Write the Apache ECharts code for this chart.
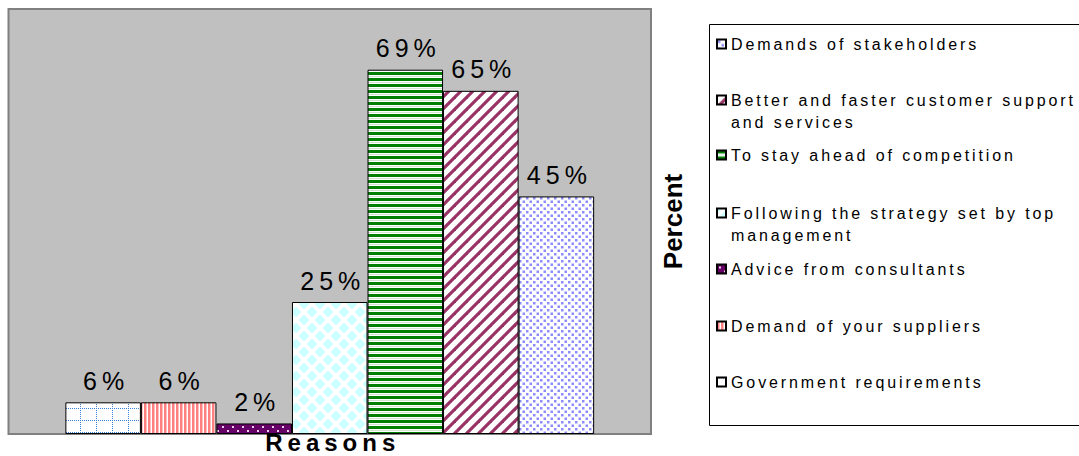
<!DOCTYPE html>
<html>
<head>
<meta charset="utf-8">
<script src="https://cdn.jsdelivr.net/npm/echarts@6/dist/echarts.min.js"></script>
<style>
html, body { margin: 0; padding: 0; background: #fff; }
#chart { width: 1079px; height: 456px; }
/* the old export spreads its letters out */
#chart text { letter-spacing: 2.9px; }
#chart text[style*="25px"] { letter-spacing: 5px; }
#chart text[style*="24px"] { letter-spacing: 5px; }
#chart text[style*="26px"] { letter-spacing: 0; }
</style>
</head>
<body>
<div id="chart"></div>
<script>
var categories = [''];
var seriesNames = [
	'Government requirements',
	'Demand of your suppliers',
	'Advice from consultants',
	'Following the strategy set by top management',
	'To stay ahead of competition',
	'Better and faster customer support and services',
	'Demands of stakeholders'
];
var seriesValues = [6, 6, 2, 25, 69, 65, 45];
var legendLabels = [
	'Government requirements',
	'Demand of your suppliers',
	'Advice from consultants',
	'Following the strategy set by top\nmanagement',
	'To stay ahead of competition',
	'Better and faster customer support\nand services',
	'Demands of stakeholders'
];

var FONT = 'Liberation Sans, Arial, sans-serif';

function tile(w, h, draw) {
	var c = document.createElement('canvas');
	c.width = w;
	c.height = h;
	var ctx = c.getContext('2d');
	ctx.fillStyle = '#fff';
	ctx.fillRect(0, 0, w, h);
	draw(ctx);
	return { image: c, repeat: 'repeat', imageWidth: w, imageHeight: h };
}

// fill patterns, same order as seriesNames
var patterns = [
	tile(16, 12, function(ctx) {
		ctx.fillStyle = '#3d80d8';
		for (var y = 0; y < 12; y += 2) ctx.fillRect(0, y, 1, 1);
		for (var x = 0; x < 16; x += 2) ctx.fillRect(x, 0, 1, 1);
	}),
	tile(4, 1, function(ctx) {
		ctx.fillStyle = '#ff8080';
		ctx.fillRect(0, 0, 2, 1);
		ctx.fillStyle = '#ffc0c0';
		ctx.fillRect(2, 0, 1, 1);
	}),
	tile(10, 8, function(ctx) {
		ctx.fillStyle = '#660066';
		ctx.fillRect(0, 0, 10, 8);
		ctx.fillStyle = '#e8d0e8';
		ctx.fillRect(2, 2, 2, 2);
		ctx.fillRect(7, 6, 2, 2);
	}),
	tile(16, 16, function(ctx) {
		ctx.fillStyle = '#ccffff';
		var pts = [[0, 0], [16, 0], [0, 16], [16, 16], [8, 8]];
		pts.forEach(function(p) {
			ctx.beginPath();
			ctx.moveTo(p[0], p[1] - 5.5);
			ctx.lineTo(p[0] + 5.5, p[1]);
			ctx.lineTo(p[0], p[1] + 5.5);
			ctx.lineTo(p[0] - 5.5, p[1]);
			ctx.closePath();
			ctx.fill();
		});
	}),
	tile(1, 6, function(ctx) {
		ctx.fillStyle = '#008000';
		ctx.fillRect(0, 0, 1, 3);
		ctx.fillStyle = '#cfe6cf';
		ctx.fillRect(0, 4, 1, 1);
	}),
	tile(12, 12, function(ctx) {
		ctx.strokeStyle = '#993366';
		ctx.lineWidth = 3.2;
		[[0, 12, 12, 0], [-6, 6, 6, -6], [6, 18, 18, 6]].forEach(function(l) {
			ctx.beginPath();
			ctx.moveTo(l[0], l[1]);
			ctx.lineTo(l[2], l[3]);
			ctx.stroke();
		});
	}),
	tile(7, 7, function(ctx) {
		ctx.fillStyle = '#8c8cff';
		ctx.fillRect(1, 1, 2.5, 2.5);
		ctx.fillRect(4.5, 4.5, 2.5, 2.5);
	})
];

var series = [];
for (var i = 0; i < seriesNames.length; i++) {
	series.push({
		name: seriesNames[i],
		type: 'bar',
		data: [seriesValues[i]],
		barGap: '0%',
		barCategoryGap: '17.7%',
		itemStyle: {
			color: patterns[i],
			borderColor: '#000',
			borderWidth: 1
		},
		label: {
			show: true,
			position: 'top',
			distance: 9,
			offset: [3, 0],
			formatter: '{c}%',
			fontFamily: FONT,
			fontSize: 25,
			color: '#000'
		},
		emphasis: { disabled: true }
	});
}

// legend runs in reverse order, one component per entry so the gaps can follow the original
var legendOrder = seriesNames.slice().reverse();
var legendLines = [44, 100, 155, 213, 269, 326, 382];
var legends = [];
legendOrder.forEach(function(name, k) {
	var label = legendLabels[seriesNames.indexOf(name)];
	var twoLines = label.indexOf('\n') >= 0;
	legends.push({
		left: 716,
		top: twoLines ? legendLines[k] - 33 : legendLines[k] - 11,
		padding: 0,
		orient: 'vertical',
		data: [name],
		icon: 'rect',
		itemWidth: 9,
		itemHeight: 9,
		selectedMode: false,
		formatter: function() {
			return twoLines ? '\n' + label : label;
		},
		textStyle: {
			fontFamily: FONT,
			fontSize: 16,
			lineHeight: 22,
			color: '#000'
		}
	});
});

var chart = echarts.init(document.getElementById('chart'), null, { renderer: 'svg' });
var option = {
	animation: false,
	backgroundColor: '#fff',
	grid: {
		left: 8.5,
		top: 9,
		right: 428,
		bottom: 22,
		outerBoundsMode: 'none',
		show: true,
		backgroundColor: '#c0c0c0',
		borderColor: '#808080',
		borderWidth: 2
	},
	legend: legends,
	xAxis: {
		type: 'category',
		data: categories,
		name: 'Reasons',
		nameLocation: 'middle',
		nameGap: -4,
		nameTextStyle: {
			fontFamily: FONT,
			fontSize: 24,
			fontWeight: 'bold',
			color: '#000',
			padding: [0, 0, 0, 6]
		},
		axisLine: { show: false },
		axisTick: { show: false },
		axisLabel: { show: false }
	},
	yAxis: {
		type: 'value',
		position: 'right',
		min: 0,
		max: 80.5,
		name: 'Percent',
		nameLocation: 'middle',
		nameRotate: 90,
		nameGap: 9,
		nameTextStyle: {
			fontFamily: FONT,
			fontSize: 26,
			fontWeight: 'bold',
			color: '#000'
		},
		axisLine: { show: false },
		axisTick: { show: false },
		axisLabel: { show: false },
		splitLine: { show: false }
	},
	graphic: [{
		type: 'rect',
		shape: { x: 709.5, y: 24.5, width: 380, height: 401 },
		style: { fill: 'none', stroke: '#000', lineWidth: 1 },
		silent: true
	}],
	series: series
};
chart.setOption(option);
</script>
</body>
</html>
